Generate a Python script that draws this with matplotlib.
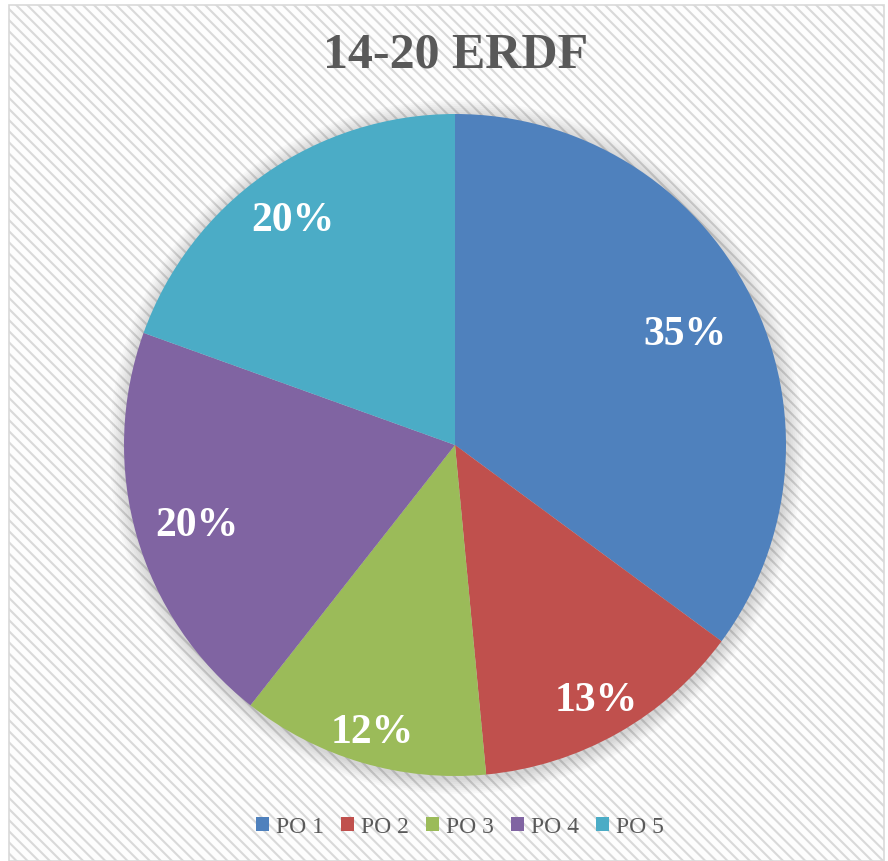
import matplotlib
matplotlib.use("Agg")
import matplotlib.pyplot as plt
from matplotlib.patches import Rectangle, Circle
import numpy as np

categories = ["PO 1", "PO 2", "PO 3", "PO 4", "PO 5"]
values = [35.1, 13.4, 12.1, 19.9, 19.5]
colors = ["#4F81BD", "#C0504D", "#9BBB59", "#8064A2", "#4BACC6"]
label_dist = [0.78, 0.865, 0.885, 0.81, 0.85]

W, H = 888, 862
plt.rcParams["hatch.color"] = "#f1f1f1"
plt.rcParams["hatch.linewidth"] = 1.5
fig = plt.figure(figsize=(W / 100, H / 100), dpi=100)
fig.patch.set_facecolor("white")

# background panel with light diagonal stripes
bg = Rectangle((9 / W, 0), (884 - 9) / W, 1 - 6 / H, transform=fig.transFigure,
               facecolor="#fdfdfd", edgecolor="#d9d9d9", linewidth=1.2,
               hatch="\\\\\\", zorder=-10)
fig.patches.append(bg)

cx, cy, r = 455, 862 - 446, 331
ax = fig.add_axes([(cx - r) / W, (cy - r) / H, 2 * r / W, 2 * r / H])
ax.set_zorder(5)

wedges, _ = ax.pie(values, colors=colors, startangle=90, counterclock=False,
                   radius=1.0, wedgeprops=dict(linewidth=0))
for w in wedges:
    w.set_zorder(2)

ax.set_xlim(-1, 1)
ax.set_ylim(-1, 1)
ax.set_aspect("equal")
ax.axis("off")

# soft shadow
for i in range(8):
    ax.add_patch(Circle((0.004, -0.006), 1.0 + 0.006 * (8 - i), facecolor="#000000",
                        alpha=0.02, edgecolor="none", zorder=1, clip_on=False))

total = sum(values)
for w, v, d in zip(wedges, values, label_dist):
    ang = np.deg2rad((w.theta1 + w.theta2) / 2)
    pct = int(100 * v / total + 0.5)
    ax.annotate(f"{pct}%", (d * np.cos(ang), d * np.sin(ang)),
                xytext=(0, -4), textcoords="offset points",
                ha="center", va="center", color="white", fontsize=30,
                fontweight="bold", family="Liberation Serif", zorder=3)

fig.text(456 / W, 1 - 55 / H, "14-20 ERDF", ha="center", va="center",
         fontsize=36, fontweight="bold", color="#595959", family="Liberation Serif")

handles = [Rectangle((0, 0), 1, 1, facecolor=c, edgecolor="none") for c in colors]
leg = fig.legend(handles, categories, loc="center", bbox_to_anchor=(460 / W, 1 - 828 / H),
                 ncol=5, frameon=False, handlelength=0.55, handleheight=0.55,
                 handletextpad=0.3, columnspacing=0.72,
                 prop=dict(family="Liberation Serif", size=17))
for t in leg.get_texts():
    t.set_color("#595959")

fig.savefig("out.png", dpi=100)
